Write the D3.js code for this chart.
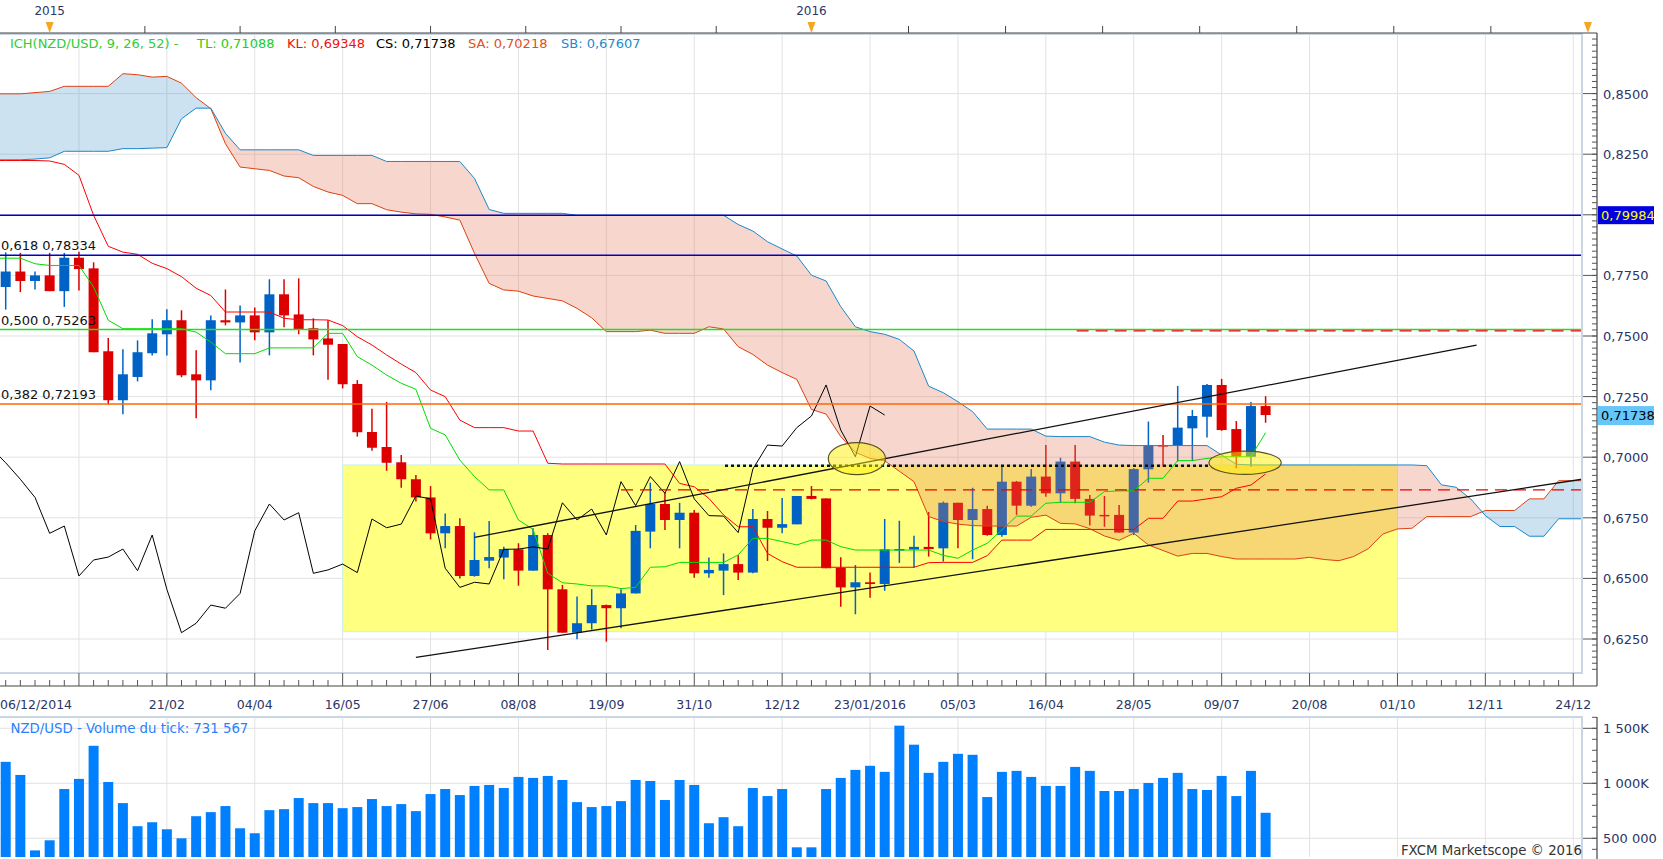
<!DOCTYPE html>
<html>
<head>
<meta charset="utf-8">
<script src="https://cdn.jsdelivr.net/npm/d3@7"></script>
<style>
  body { margin: 0; background: #fff; }
  svg { display: block; font-family: "DejaVu Sans", Verdana, sans-serif; }
</style>
</head>
<body>
<svg id="screen" width="1663" height="859"></svg>
<script>
// weekly NZD/USD candles, week 0 = 06/12/2014
var openP = [0.7702,0.7766,0.7727,0.7750,0.7685,0.7823,0.7779,0.7437,0.7235,0.7331,
  0.7429,0.7507,0.7565,0.7342,0.7317,0.7565,0.7556,0.7585,0.7515,0.7672,
  0.7589,0.7532,0.7490,0.7467,0.7302,0.7104,0.7042,0.6979,0.6909,0.6834,
  0.6686,0.6716,0.6510,0.6573,0.6586,0.6620,0.6532,0.6679,0.6455,0.6276,
  0.6315,0.6390,0.6377,0.6438,0.6693,0.6807,0.6741,0.6771,0.6521,0.6532,
  0.6559,0.6524,0.6745,0.6709,0.6723,0.6840,0.6830,0.6544,0.6463,0.6484,
  0.6477,0.6617,0.6619,0.6630,0.6624,0.6812,0.6741,0.6786,0.6679,0.6899,
  0.6800,0.6920,0.6851,0.6982,0.6828,0.6762,0.6762,0.6689,0.6950,0.7050,
  0.7048,0.7119,0.7167,0.7298,0.7116,0.7002,0.7211];
var highP = [0.7845,0.7843,0.7766,0.7843,0.7843,0.7848,0.7804,0.7492,0.7445,0.7482,
  0.7569,0.7610,0.7606,0.7441,0.7585,0.7692,0.7626,0.7618,0.7734,0.7734,
  0.7738,0.7573,0.7565,0.7467,0.7318,0.7200,0.7228,0.7009,0.6927,0.6881,
  0.6768,0.6748,0.6690,0.6737,0.6631,0.6645,0.6707,0.6686,0.6473,0.6425,
  0.6456,0.6392,0.6455,0.6720,0.6895,0.6854,0.6812,0.6782,0.6586,0.6603,
  0.6595,0.6786,0.6778,0.6832,0.6840,0.6881,0.6830,0.6587,0.6555,0.6524,
  0.6745,0.6738,0.6676,0.6774,0.6817,0.6812,0.6874,0.6800,0.6965,0.6902,
  0.6951,0.7050,0.6998,0.7050,0.6844,0.6840,0.6803,0.6954,0.7147,0.7092,
  0.7294,0.7195,0.7302,0.7323,0.7149,0.7228,0.7252];
var lowP = [0.7609,0.7681,0.7692,0.7685,0.7620,0.7688,0.7433,0.7218,0.7177,0.7313,
  0.7420,0.7420,0.7330,0.7161,0.7276,0.7544,0.7391,0.7482,0.7420,0.7536,
  0.7507,0.7420,0.7319,0.7284,0.7085,0.7027,0.6944,0.6874,0.6817,0.6661,
  0.6624,0.6500,0.6507,0.6542,0.6496,0.6470,0.6532,0.6205,0.6276,0.6249,
  0.6289,0.6239,0.6294,0.6438,0.6624,0.6700,0.6624,0.6503,0.6503,0.6431,
  0.6493,0.6521,0.6572,0.6686,0.6723,0.6826,0.6542,0.6383,0.6352,0.6420,
  0.6449,0.6564,0.6544,0.6590,0.6569,0.6624,0.6579,0.6676,0.6672,0.6762,
  0.6796,0.6837,0.6812,0.6810,0.6718,0.6713,0.6689,0.6679,0.6895,0.6961,
  0.6982,0.6984,0.7081,0.7109,0.6954,0.6961,0.7142];
var closeP = [0.7766,0.7727,0.7750,0.7685,0.7823,0.7776,0.7433,0.7235,0.7342,0.7433,
  0.7511,0.7565,0.7338,0.7317,0.7565,0.7556,0.7585,0.7515,0.7672,0.7585,
  0.7527,0.7486,0.7464,0.7301,0.7103,0.7039,0.6977,0.6909,0.6834,0.6686,
  0.6716,0.6510,0.6576,0.6588,0.6621,0.6532,0.6679,0.6455,0.6276,0.6315,
  0.6390,0.6377,0.6438,0.6696,0.6807,0.6741,0.6771,0.6521,0.6535,0.6559,
  0.6524,0.6745,0.6709,0.6724,0.6840,0.6828,0.6542,0.6463,0.6484,0.6477,
  0.6620,0.6621,0.6630,0.6621,0.6812,0.6741,0.6786,0.6679,0.6899,0.6800,
  0.6920,0.6851,0.6982,0.6828,0.6759,0.6757,0.6689,0.6951,0.7050,0.7046,
  0.7122,0.7170,0.7298,0.7112,0.7002,0.7211,0.7174];
var tickVolume = [1195,1076,390,482,948,1040,1341,1012,820,610,
  646,582,500,701,738,793,591,546,756,765,
  866,820,820,774,784,857,793,811,747,902,
  948,893,976,985,957,1058,1049,1067,1030,829,
  784,793,838,1030,1021,848,1030,985,637,692,
  610,957,884,948,418,418,948,1049,1122,1159,
  1104,1524,1351,1095,1195,1268,1259,875,1104,1113,
  1058,976,976,1149,1113,930,930,948,1003,1049,
  1095,948,939,1067,884,1113,732];

// ichimoku lines, first value is week -1
var lineStart = -1;
var tenkan = [0.7821,0.7821,0.7821,0.7798,0.7791,0.7791,0.7791,0.7702,0.7565,0.7530,0.7530,
  0.7530,0.7530,0.7530,0.7516,0.7475,0.7427,0.7427,0.7427,0.7451,0.7451,
  0.7451,0.7451,0.7511,0.7511,0.7415,0.7380,0.7339,0.7305,0.7280,0.7119,
  0.7092,0.6988,0.6920,0.6865,0.6865,0.6741,0.6702,0.6521,0.6482,0.6477,
  0.6469,0.6469,0.6458,0.6463,0.6546,0.6548,0.6566,0.6566,0.6566,0.6566,
  0.6597,0.6665,0.6665,0.6652,0.6638,0.6658,0.6658,0.6631,0.6617,0.6617,
  0.6617,0.6617,0.6617,0.6617,0.6595,0.6583,0.6617,0.6645,0.6700,0.6757,
  0.6757,0.6810,0.6814,0.6814,0.6814,0.6858,0.6861,0.6861,0.6913,0.6913,
  0.6986,0.6986,0.6995,0.7002,0.7002,0.7002,0.7101];
var kijun = [0.8224,0.8224,0.8224,0.8224,0.8222,0.8208,0.8163,0.7998,0.7870,0.7846,0.7837,
  0.7800,0.7778,0.7745,0.7697,0.7667,0.7599,0.7599,0.7599,0.7599,0.7573,
  0.7567,0.7567,0.7566,0.7543,0.7497,0.7463,0.7422,0.7384,0.7349,0.7277,
  0.7250,0.7153,0.7122,0.7122,0.7122,0.7108,0.7108,0.6975,0.6972,0.6972,
  0.6972,0.6972,0.6972,0.6972,0.6972,0.6972,0.6892,0.6878,0.6830,0.6762,
  0.6713,0.6713,0.6603,0.6569,0.6546,0.6546,0.6546,0.6546,0.6546,0.6546,
  0.6546,0.6546,0.6546,0.6565,0.6566,0.6566,0.6566,0.6594,0.6658,0.6658,
  0.6658,0.6702,0.6702,0.6702,0.6702,0.6702,0.6702,0.6702,0.6748,0.6748,
  0.6819,0.6819,0.6828,0.6837,0.6872,0.6885,0.6931];
var spanA = [0.8499,0.8499,0.8499,0.8504,0.8509,0.8530,0.8530,0.8530,0.8530,0.8582,0.8578,
  0.8568,0.8571,0.8543,0.8483,0.8438,0.8293,0.8197,0.8190,0.8183,0.8160,
  0.8153,0.8117,0.8094,0.8080,0.8046,0.8046,0.8021,0.8011,0.8004,0.8002,
  0.7991,0.7978,0.7841,0.7717,0.7690,0.7685,0.7665,0.7655,0.7645,0.7614,
  0.7575,0.7518,0.7518,0.7518,0.7524,0.7511,0.7511,0.7511,0.7538,0.7529,
  0.7456,0.7424,0.7380,0.7349,0.7321,0.7197,0.7178,0.7085,0.7020,0.6995,
  0.6985,0.6942,0.6899,0.6755,0.6735,0.6724,0.6718,0.6716,0.6716,0.6716,
  0.6752,0.6761,0.6727,0.6725,0.6705,0.6675,0.6657,0.6686,0.6638,0.6615,
  0.6592,0.6603,0.6603,0.6590,0.6580,0.6580,0.6580,0.6580,0.6580,0.6587,
  0.6578,0.6573,0.6590,0.6622,0.6683,0.6704,0.6707,0.6755,0.6755,0.6755,
  0.6755,0.6780,0.6780,0.6780,0.6828,0.6828,0.6903,0.6903,0.6903];
var spanB = [0.8227,0.8227,0.8227,0.8230,0.8235,0.8262,0.8262,0.8262,0.8262,0.8273,0.8273,
  0.8275,0.8277,0.8396,0.8440,0.8440,0.8336,0.8268,0.8268,0.8268,0.8268,
  0.8268,0.8245,0.8245,0.8245,0.8245,0.8245,0.8220,0.8220,0.8220,0.8220,
  0.8220,0.8220,0.8150,0.8022,0.8006,0.8006,0.8006,0.8006,0.8006,0.7998,
  0.7998,0.7998,0.7998,0.7998,0.7998,0.7998,0.7998,0.7998,0.7998,0.7998,
  0.7960,0.7933,0.7889,0.7859,0.7830,0.7751,0.7727,0.7621,0.7538,0.7518,
  0.7507,0.7486,0.7438,0.7293,0.7266,0.7229,0.7188,0.7116,0.7116,0.7116,
  0.7116,0.7087,0.7085,0.7085,0.7085,0.7062,0.7050,0.7048,0.7048,0.7048,
  0.7048,0.7048,0.7048,0.7009,0.6971,0.6968,0.6968,0.6968,0.6968,0.6968,
  0.6968,0.6968,0.6968,0.6968,0.6968,0.6968,0.6968,0.6965,0.6886,0.6876,
  0.6828,0.6759,0.6714,0.6714,0.6674,0.6674,0.6746,0.6746,0.6746];
var chikouShift = 26;

// axes
var xLabelWeeks = [0,11,17,23,29,35,41,47,53,59,65,71,77,83,89,95,101,107];
var xLabels = ['06/12/2014','21/02','04/04','16/05','27/06','08/08','19/09','31/10','12/12',
  '23/01/2016','05/03','16/04','28/05','09/07','20/08','01/10','12/11','24/12'];
var yearWeeks = [3, 55, 108];
var yearLabels = ['2015', '2016', ''];
var priceTicks = [0.625,0.65,0.675,0.70,0.725,0.75,0.775,0.80,0.825,0.85];
var volumeTicks = [500000, 1000000, 1500000];
var volumeTickLabels = ['500 000', '1 000K', '1 500K'];

// drawings on the chart
var fibPrices = [0.79984, 0.78334, 0.75263, 0.72193];
var fibLabels = ['', '0,618 0,78334', '0,500 0,75263', '0,382 0,72193'];
var fibColors = ['#0000c8', '#0000c8', '#22dd22', '#ff6600'];
var dashedPrices = [0.7521, 0.6865];
var dashedFrom = [73.1, 42.0];
var dottedLine = [[49.1, 0.6965], [82.1, 0.6965]];
var trendLines = [[[28.0, 0.6174], [107.6, 0.6909]], [[32.0, 0.6669], [100.4, 0.7462]]];
var boxWeeks = [23, 95];
var boxPrices = [0.6280, 0.6968];
var ellipses = [[58.1, 0.6994, 1.95, 0.0066], [84.6, 0.6977, 2.47, 0.0048]];
var legendParts = ['ICH(NZD/USD, 9, 26, 52) -', 'TL: 0,71088', 'KL: 0,69348', 'CS: 0,71738', 'SA: 0,70218', 'SB: 0,67607'];
var legendColors = ['#33cc33', '#22cc22', '#ee1111', '#000000', '#e0501a', '#1e8ad0'];
var lastClose = 0.71738;
var lastVolume = '731 567';

(function() {
  var svg = d3.select('#screen');
  var plotL = 0, plotR = 1582, plotT = 34, plotB = 673;
  var volT = 717, volB = 857;
  var axisX = 1597;
  var upColor = '#0062c4', downColor = '#dd0000';
  var gridColor = '#e2e2e2', axisText = '#2b3566';

  var x = d3.scaleLinear().domain([0, 107]).range([5.7, 1573.25]);
  var y = d3.scaleLinear().domain([0.625, 0.85]).range([639, 93.6]);
  var vy = d3.scaleLinear().domain([1000000, 1500000]).range([783.3, 728.3]);
  var comma = function(v, n) { return v.toFixed(n).replace('.', ','); };

  var defs = svg.append('defs');
  defs.append('clipPath').attr('id', 'plotClip').append('rect')
    .attr('x', plotL).attr('y', plotT).attr('width', plotR - plotL).attr('height', plotB - plotT);
  defs.append('clipPath').attr('id', 'volClip').append('rect')
    .attr('x', plotL).attr('y', volT).attr('width', plotR - plotL).attr('height', volB - volT);

  // ---- grids
  var gridWeeks = d3.range(5, 108, 6);
  var grid = svg.append('g').attr('stroke', gridColor).attr('stroke-width', 1);
  grid.selectAll('line.v').data(gridWeeks).enter().append('line')
    .attr('x1', function(d) { return x(d); }).attr('x2', function(d) { return x(d); })
    .attr('y1', plotT).attr('y2', plotB);
  grid.selectAll('line.vv').data(gridWeeks).enter().append('line')
    .attr('x1', function(d) { return x(d); }).attr('x2', function(d) { return x(d); })
    .attr('y1', volT).attr('y2', volB);
  grid.selectAll('line.h').data(priceTicks).enter().append('line')
    .attr('x1', plotL).attr('x2', plotR)
    .attr('y1', function(d) { return y(d); }).attr('y2', function(d) { return y(d); });
  grid.selectAll('line.hv').data(volumeTicks).enter().append('line')
    .attr('x1', plotL).attr('x2', plotR)
    .attr('y1', function(d) { return vy(d); }).attr('y2', function(d) { return vy(d); });

  var plot = svg.append('g').attr('clip-path', 'url(#plotClip)');

  // ---- yellow box
  plot.append('rect')
    .attr('x', x(boxWeeks[0])).attr('width', x(boxWeeks[1]) - x(boxWeeks[0]))
    .attr('y', y(boxPrices[1])).attr('height', y(boxPrices[0]) - y(boxPrices[1]))
    .attr('fill', '#ffff80').attr('stroke', '#c8f0f0').attr('stroke-width', 1);

  // ---- candles
  var candles = openP.map(function(o, i) {
    return { k: i, o: o, h: highP[i], l: lowP[i], c: closeP[i] };
  });
  var colorOf = function(d) { return d.c >= d.o ? upColor : downColor; };
  plot.selectAll('line.wick').data(candles).enter().append('line')
    .attr('x1', function(d) { return x(d.k); }).attr('x2', function(d) { return x(d.k); })
    .attr('y1', function(d) { return y(d.h); }).attr('y2', function(d) { return y(d.l); })
    .attr('stroke', colorOf).attr('stroke-width', 1.5);
  plot.selectAll('rect.body').data(candles).enter().append('rect')
    .attr('x', function(d) { return x(d.k) - 5; }).attr('width', 10)
    .attr('y', function(d) { return y(Math.max(d.o, d.c)); })
    .attr('height', function(d) { return Math.max(1.5, Math.abs(y(d.o) - y(d.c))); })
    .attr('fill', colorOf);

  // ---- cloud
  var spans = spanA.map(function(a, i) { return { k: i + lineStart, a: a, b: spanB[i] }; });
  var areaBelow = function(key) {
    return d3.area().x(function(d) { return x(d.k); }).y0(plotB + 5).y1(function(d) { return y(d[key]); });
  };
  var areaAbove = function(key) {
    return d3.area().x(function(d) { return x(d.k); }).y0(function(d) { return y(d[key]); }).y1(plotT - 5);
  };
  defs.append('clipPath').attr('id', 'belowA').append('path').attr('d', areaBelow('a')(spans));
  defs.append('clipPath').attr('id', 'belowB').append('path').attr('d', areaBelow('b')(spans));
  plot.append('g').attr('clip-path', 'url(#belowA)').append('path')
    .attr('d', areaAbove('b')(spans)).attr('fill', 'rgb(50,140,200)').attr('fill-opacity', 0.25);
  plot.append('g').attr('clip-path', 'url(#belowB)').append('path')
    .attr('d', areaAbove('a')(spans)).attr('fill', 'rgb(230,120,90)').attr('fill-opacity', 0.3);

  // ---- lines
  function drawLine(points, color, width) {
    plot.append('path')
      .attr('d', d3.line().x(function(d) { return x(d[0]); }).y(function(d) { return y(d[1]); })(points))
      .attr('fill', 'none').attr('stroke', color).attr('stroke-width', width || 1);
  }
  var series = function(arr) { return arr.map(function(v, i) { return [i + lineStart, v]; }); };
  drawLine(series(spanA), '#e04010');
  drawLine(series(spanB), '#1a88cc');
  drawLine(series(kijun), '#ff0000');
  drawLine(series(tenkan), '#00dd00');
  var chikou = closeP.map(function(c, i) { return [i - chikouShift, c]; })
    .filter(function(d) { return d[0] >= lineStart; });
  drawLine(chikou, '#000000');

  // ---- fibonacci levels
  fibPrices.forEach(function(p, i) {
    plot.append('line').attr('x1', plotL).attr('x2', plotR)
      .attr('y1', y(p)).attr('y2', y(p))
      .attr('stroke', fibColors[i]).attr('stroke-width', 1.5);
    if (fibLabels[i])
      svg.append('text').attr('x', 1).attr('y', y(p) - 5)
        .attr('font-size', 13).attr('fill', '#111').text(fibLabels[i]);
  });

  // ---- dashed levels, dotted line, trend lines
  dashedPrices.forEach(function(p, i) {
    plot.append('line').attr('x1', x(dashedFrom[i])).attr('x2', plotR)
      .attr('y1', y(p)).attr('y2', y(p))
      .attr('stroke', '#ee0000').attr('stroke-width', 1.3).attr('stroke-dasharray', '12,7');
  });
  plot.append('line')
    .attr('x1', x(dottedLine[0][0])).attr('x2', x(dottedLine[1][0]))
    .attr('y1', y(dottedLine[0][1])).attr('y2', y(dottedLine[1][1]))
    .attr('stroke', '#111').attr('stroke-width', 2.5).attr('stroke-dasharray', '3,3');
  trendLines.forEach(function(t) { drawLine(t, '#111', 1.3); });

  // ---- ellipses
  plot.selectAll('ellipse.mark').data(ellipses).enter().append('ellipse')
    .attr('cx', function(d) { return x(d[0]); }).attr('cy', function(d) { return y(d[1]); })
    .attr('rx', function(d) { return x(d[2]) - x(0); })
    .attr('ry', function(d) { return y(0.7) - y(0.7 + d[3]); })
    .attr('fill', 'rgb(255,240,0)').attr('fill-opacity', 0.5)
    .attr('stroke', '#5a5020').attr('stroke-width', 1.2);

  // ---- plot frames
  svg.append('rect').attr('x', plotL - 2).attr('y', plotT).attr('width', plotR - plotL + 2).attr('height', plotB - plotT)
    .attr('fill', 'none').attr('stroke', '#c9d6e3').attr('stroke-width', 2);
  svg.append('rect').attr('x', plotL - 2).attr('y', volT).attr('width', plotR - plotL + 2).attr('height', volB - volT + 4)
    .attr('fill', 'none').attr('stroke', '#c9d6e3').attr('stroke-width', 2);

  // ---- legend
  var legendX = [9.9, 197, 287, 376, 468, 561];
  legendParts.forEach(function(t, i) {
    svg.append('text').attr('x', legendX[i]).attr('y', 48)
      .attr('font-size', 13).attr('fill', legendColors[i]).text(t);
  });

  // ---- top axis
  var top = svg.append('g');
  top.append('line').attr('x1', 0).attr('x2', axisX).attr('y1', 33).attr('y2', 33)
    .attr('stroke', '#444').attr('stroke-width', 1.2);
  var topTicks = [];
  for (var i = 0; i < yearWeeks.length - 1; i++)
    for (var m = 1; m < 8; m++)
      topTicks.push(yearWeeks[i] + m * (yearWeeks[i + 1] - yearWeeks[i]) / 8);
  top.selectAll('line.t').data(topTicks).enter().append('line')
    .attr('x1', function(d) { return x(d); }).attr('x2', function(d) { return x(d); })
    .attr('y1', 26).attr('y2', 33).attr('stroke', '#444');
  top.selectAll('path.year').data(yearWeeks).enter().append('path')
    .attr('d', function(d) { var cx = x(d); return 'M' + (cx - 4) + ',22L' + (cx + 4) + ',22L' + cx + ',33Z'; })
    .attr('fill', '#f5a623');
  top.selectAll('text.year').data(yearWeeks).enter().append('text')
    .attr('x', function(d) { return x(d); }).attr('y', 15).attr('text-anchor', 'middle')
    .attr('font-size', 12).attr('fill', axisText)
    .text(function(d, i) { return yearLabels[i]; });

  // ---- bottom axis
  var bottom = svg.append('g');
  bottom.append('line').attr('x1', 0).attr('x2', axisX).attr('y1', 686).attr('y2', 686)
    .attr('stroke', '#444').attr('stroke-width', 1.2);
  bottom.selectAll('line.minor').data(d3.range(0, 108)).enter().append('line')
    .attr('x1', function(d) { return x(d); }).attr('x2', function(d) { return x(d); })
    .attr('y1', function(d) { return (d - 5) % 6 === 0 ? plotB : 680; }).attr('y2', 686)
    .attr('stroke', '#555');
  bottom.selectAll('text.date').data(xLabelWeeks).enter().append('text')
    .attr('x', function(d, i) { return i === 0 ? 0 : x(d); })
    .attr('y', 709)
    .attr('text-anchor', function(d, i) { return i === 0 ? 'start' : 'middle'; })
    .attr('font-size', 12.5).attr('fill', axisText)
    .text(function(d, i) { return xLabels[i]; });

  // ---- price axis
  var right = svg.append('g');
  right.append('line').attr('x1', axisX).attr('x2', axisX).attr('y1', 33).attr('y2', 686)
    .attr('stroke', '#444').attr('stroke-width', 1.2);
  var minorPrices = d3.range(0, 106).map(function(i) { return 0.6125 + i * 0.0025; })
    .filter(function(p) { return y(p) > plotT && y(p) < plotB; });
  right.selectAll('line.pm').data(minorPrices).enter().append('line')
    .attr('x1', axisX - 5).attr('x2', axisX)
    .attr('y1', function(d) { return y(d); }).attr('y2', function(d) { return y(d); })
    .attr('stroke', '#555');
  right.selectAll('line.pM').data(priceTicks).enter().append('line')
    .attr('x1', axisX - 14).attr('x2', axisX)
    .attr('y1', function(d) { return y(d); }).attr('y2', function(d) { return y(d); })
    .attr('stroke', '#555');
  // labels hidden by the price tags are left out, as in the original
  var tagPrices = [fibPrices[0], lastClose];
  var shownTicks = priceTicks.filter(function(p) {
    return tagPrices.every(function(t) { return Math.abs(y(p) - y(t)) > 16; });
  });
  right.selectAll('text.price').data(shownTicks).enter().append('text')
    .attr('x', 1603).attr('y', function(d) { return y(d) + 5; })
    .attr('font-size', 13).attr('fill', axisText)
    .text(function(d) { return comma(d, 4); });

  // tags for the last close and the top fibonacci level
  right.append('rect').attr('x', 1598).attr('y', y(fibPrices[0]) - 9).attr('width', 56).attr('height', 18)
    .attr('fill', '#0000e0');
  right.append('text').attr('x', 1601).attr('y', y(fibPrices[0]) + 5)
    .attr('font-size', 13).attr('fill', '#ffff00').text(comma(fibPrices[0], 5));
  right.append('rect').attr('x', 1598).attr('y', y(lastClose) - 9).attr('width', 56).attr('height', 19)
    .attr('fill', '#66c6f8');
  right.append('text').attr('x', 1601).attr('y', y(lastClose) + 5)
    .attr('font-size', 13).attr('fill', '#000').text(comma(lastClose, 5));

  // ---- volume panel
  var vol = svg.append('g').attr('clip-path', 'url(#volClip)');
  vol.selectAll('rect.vol').data(tickVolume).enter().append('rect')
    .attr('x', function(d, i) { return x(i) - 5; }).attr('width', 10)
    .attr('y', function(d) { return vy(d * 1000); })
    .attr('height', function(d) { return volB - vy(d * 1000); })
    .attr('fill', '#0080ff');
  svg.append('text').attr('x', 10.5).attr('y', 733)
    .attr('font-size', 13.3).attr('fill', '#2a7fff')
    .text('NZD/USD - Volume du tick: ' + lastVolume);
  svg.append('text').attr('x', 1582).attr('y', 855).attr('text-anchor', 'end')
    .attr('font-size', 13.3).attr('fill', '#333').text('FXCM Marketscope \u00a9 2016');

  right.append('line').attr('x1', axisX).attr('x2', axisX).attr('y1', volT).attr('y2', 859)
    .attr('stroke', '#444').attr('stroke-width', 1.2);
  var minorVol = d3.range(4, 17).map(function(i) { return i * 100000; })
    .filter(function(v) { return vy(v) > volT && vy(v) < 859; });
  right.selectAll('line.vm').data(minorVol).enter().append('line')
    .attr('x1', axisX - 5).attr('x2', axisX)
    .attr('y1', function(d) { return vy(d); }).attr('y2', function(d) { return vy(d); })
    .attr('stroke', '#555');
  right.selectAll('line.vM').data(volumeTicks).enter().append('line')
    .attr('x1', axisX - 14).attr('x2', axisX)
    .attr('y1', function(d) { return vy(d); }).attr('y2', function(d) { return vy(d); })
    .attr('stroke', '#555');
  right.selectAll('text.vol').data(volumeTicks).enter().append('text')
    .attr('x', 1603).attr('y', function(d) { return vy(d) + 5; })
    .attr('font-size', 13).attr('fill', axisText)
    .text(function(d, i) { return volumeTickLabels[i]; });
})();
</script>
</body>
</html>
